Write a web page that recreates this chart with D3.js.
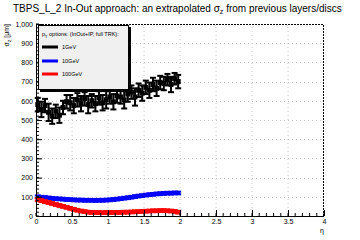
<!DOCTYPE html>
<html>
<head>
<meta charset="utf-8">
<script src="https://cdn.jsdelivr.net/npm/d3@7"></script>
<style>
  body { margin: 0; background: #fff; }
  text { font-family: "Liberation Sans", Arial, sans-serif; }
</style>
</head>
<body>
<div id="container"></div>
<script>
  const width = 360;
  const height = 240;

  // eta bin centres (0.05 wide bins)
  const eta = [0.025, 0.075, 0.125, 0.175, 0.225, 0.275, 0.325, 0.375, 0.425, 0.475,
    0.525, 0.575, 0.625, 0.675, 0.725, 0.775, 0.825, 0.875, 0.925, 0.975,
    1.025, 1.075, 1.125, 1.175, 1.225, 1.275, 1.325, 1.375, 1.425, 1.475,
    1.525, 1.575, 1.625, 1.675, 1.725, 1.775, 1.825, 1.875, 1.925, 1.975];

  const sigma1 = [580, 555, 575, 540, 520, 545, 525, 565, 595, 590,
    575, 605, 585, 610, 580, 600, 585, 615, 590, 605,
    620, 595, 625, 620, 605, 635, 645, 620, 655, 640,
    670, 655, 685, 665, 695, 690, 710, 685, 715, 700];
  const err1 = [35, 40, 35, 45, 40, 35, 40, 35, 35, 40,
    40, 35, 40, 35, 45, 35, 40, 35, 40, 45,
    35, 40, 35, 35, 45, 40, 35, 45, 35, 40,
    35, 40, 35, 40, 35, 35, 30, 40, 30, 35];

  const sigma10 = [100, 98, 96, 94, 92, 90, 89, 88, 86, 85,
    84, 83, 83, 82, 82, 82, 81, 82, 82, 83,
    84, 86, 88, 90, 93, 95, 98, 101, 104, 106,
    109, 111, 113, 115, 116, 118, 119, 119, 120, 120];
  const err10 = [7, 7, 7, 7, 7, 7, 7, 7, 7, 7, 7, 7, 7, 7, 7, 7, 7, 7, 7, 7,
    7, 7, 7, 7, 7, 7, 7, 7, 7, 7, 7, 7, 7, 7, 7, 7, 7, 7, 7, 7];

  const sigma100 = [85, 80, 75, 70, 65, 60, 55, 50, 45, 40,
    35, 30, 26, 23, 20, 19, 18, 18, 17, 18,
    18, 18, 19, 19, 20, 20, 21, 22, 23, 24,
    25, 26, 27, 27, 28, 28, 27, 26, 24, 20];
  const err100 = [7, 7, 7, 7, 7, 7, 7, 7, 7, 7, 7, 7, 7, 7, 7, 7, 7, 7, 7, 7,
    7, 7, 7, 7, 7, 7, 7, 7, 7, 7, 7, 7, 7, 7, 7, 7, 7, 7, 7, 7];

  const series = [
    { name: "1GeV", color: "#000000", y: sigma1, e: err1, m: 5 },
    { name: "10GeV", color: "#0000ff", y: sigma10, e: err10, m: 4 },
    { name: "100GeV", color: "#ff0000", y: sigma100, e: err100, m: 4 }
  ];

  const xTicks = [0, 0.5, 1, 1.5, 2, 2.5, 3, 3.5, 4];
  const yTicks = [0, 100, 200, 300, 400, 500, 600, 700, 800, 900, 1000];

  const margin = { left: 36, right: 36, top: 24, bottom: 24 };
  const x = d3.scaleLinear().domain([0, 4]).range([margin.left, width - margin.right]);
  const y = d3.scaleLinear().domain([0, 1000]).range([height - margin.bottom, margin.top]);

  const svg = d3.create("svg")
    .attr("width", width)
    .attr("height", height);

  // grid
  svg.append("g")
    .selectAll("line")
    .data(xTicks.slice(1, -1))
    .join("line")
    .attr("x1", d => x(d)).attr("x2", d => x(d))
    .attr("y1", y(0)).attr("y2", y(1000))
    .attr("stroke", "#c8c8c8").attr("stroke-width", 1)
    .attr("stroke-dasharray", "1,3");
  svg.append("g")
    .selectAll("line")
    .data(yTicks.slice(1, -1))
    .join("line")
    .attr("x1", x(0)).attr("x2", x(4))
    .attr("y1", d => Math.round(y(d)) + 0.5).attr("y2", d => Math.round(y(d)) + 0.5)
    .attr("stroke", "#c8c8c8").attr("stroke-width", 1)
    .attr("stroke-dasharray", "1,3");

  // frame top/right dashed
  svg.append("path")
    .attr("d", `M${x(0)},${y(1000) + 0.5}H${x(4) - 0.5}V${y(0)}`)
    .attr("fill", "none").attr("stroke", "#000").attr("stroke-dasharray", "2,1");

  // data
  series.forEach(s => {
    const g = svg.append("g").attr("fill", s.color).attr("stroke", s.color);
    const pts = eta.map((v, i) => ({ x: v, y: s.y[i], e: s.e[i] }));
    g.selectAll(null)
      .data(pts).join("line")
      .attr("x1", d => x(d.x)).attr("x2", d => x(d.x))
      .attr("y1", d => y(d.y - d.e)).attr("y2", d => y(d.y + d.e))
      .attr("stroke-width", 2);
    g.selectAll(null)
      .data(pts).join("line")
      .attr("x1", d => x(d.x - 0.025)).attr("x2", d => x(d.x + 0.025))
      .attr("y1", d => y(d.y)).attr("y2", d => y(d.y))
      .attr("stroke-width", 2);
    [-1, 1].forEach(sg => {
      g.selectAll(null)
        .data(pts).join("line")
        .attr("x1", d => x(d.x) - 3).attr("x2", d => x(d.x) + 3)
        .attr("y1", d => y(d.y + sg * d.e)).attr("y2", d => y(d.y + sg * d.e))
        .attr("stroke-width", 2);
    });
    g.selectAll("rect")
      .data(pts).join("rect")
      .attr("x", d => x(d.x) - s.m / 2).attr("y", d => y(d.y) - s.m / 2)
      .attr("width", s.m).attr("height", s.m)
      .attr("stroke", "none");
  });

  // axes
  const xAxis = d3.axisBottom(x).tickValues(xTicks).tickSize(-6).tickPadding(3)
    .tickFormat(d3.format("~g"));
  const gx = svg.append("g").attr("transform", `translate(0,${y(0)})`).call(xAxis);
  gx.selectAll(".tick text").attr("font-size", 7).attr("font-family", "Liberation Sans, Arial, sans-serif");
  gx.select(".domain").attr("d", `M${x(0)},0.5H${x(4)}`);
  gx.append("g").selectAll("line")
    .data(d3.range(0, 41).map(i => i / 10))
    .join("line")
    .attr("x1", d => x(d)).attr("x2", d => x(d))
    .attr("y1", 0).attr("y2", -3).attr("stroke", "#000");

  const yAxis = d3.axisLeft(y).tickValues(yTicks).tickSize(-6).tickPadding(3);
  const gy = svg.append("g").attr("transform", `translate(${x(0)},0)`).call(yAxis);
  gy.selectAll(".tick text").attr("font-size", 7).attr("font-family", "Liberation Sans, Arial, sans-serif");
  gy.select(".domain").attr("d", `M0.5,${y(0)}V${y(1000)}`);
  gy.append("g").selectAll("line")
    .data(d3.range(0, 51).map(i => i * 20))
    .join("line")
    .attr("x1", 0).attr("x2", 3)
    .attr("y1", d => y(d)).attr("y2", d => y(d)).attr("stroke", "#000");

  // axis titles
  const yl = svg.append("text")
    .attr("transform", `translate(9,${y(1000)}) rotate(-90)`)
    .attr("text-anchor", "end").attr("font-size", 7);
  yl.append("tspan").text("σ");
  yl.append("tspan").attr("font-size", 5).attr("dy", 2).text("z");
  yl.append("tspan").attr("dy", -2).text(" [μm]");

  svg.append("text")
    .attr("x", x(4)).attr("y", 233)
    .attr("text-anchor", "end").attr("font-size", 7).text("η");

  // title
  const t = svg.append("text").attr("x", 13).attr("y", 12).attr("font-size", 10);
  t.append("tspan").text("TBPS_L_2 In-Out approach: an extrapolated σ");
  t.append("tspan").attr("font-size", 7).attr("dy", 2).text("z");
  t.append("tspan").attr("dy", -2).text(" from previous layers/discs");

  // legend
  const lg = svg.append("g");
  lg.append("rect").attr("x", 40).attr("y", 27).attr("width", 91).attr("height", 65).attr("fill", "#000");
  lg.append("rect").attr("x", 38.5).attr("y", 25.5).attr("width", 90).attr("height", 64)
    .attr("fill", "#f0f0f0").attr("stroke", "#000");
  const lh = lg.append("text").attr("x", 42).attr("y", 36).attr("font-size", 5.5);
  lh.append("tspan").text("p");
  lh.append("tspan").attr("font-size", 4).attr("dy", 1.5).text("T");
  lh.append("tspan").attr("dy", -1.5).text(" options: (InOut+IP, full TRK):");
  const legY = [47, 61, 74];
  series.forEach((s, i) => {
    lg.append("line").attr("x1", 42).attr("x2", 58).attr("y1", legY[i]).attr("y2", legY[i])
      .attr("stroke", s.color).attr("stroke-width", 3);
    lg.append("text").attr("x", 62).attr("y", legY[i] + 2).attr("font-size", 5.5).text(s.name);
  });

  document.getElementById("container").appendChild(svg.node());
</script>
</body>
</html>
